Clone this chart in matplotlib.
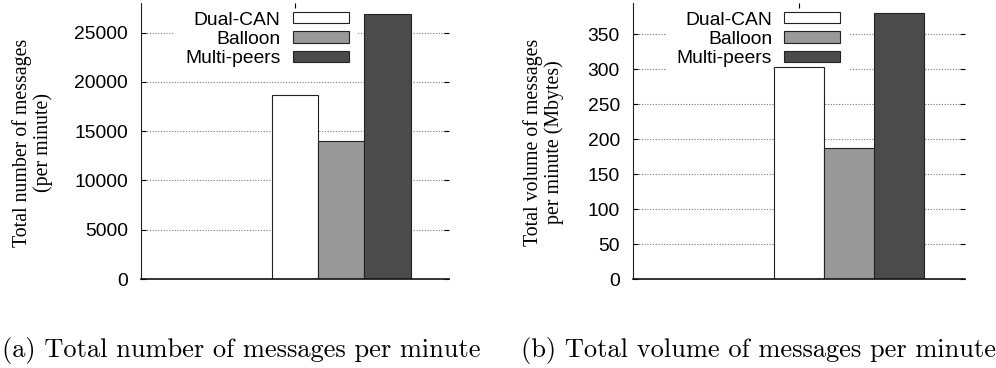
import matplotlib
matplotlib.use("Agg")
import matplotlib.pyplot as plt

categories = ["Dual-CAN", "Balloon", "Multi-peers"]
messages_per_min = [18700, 14000, 26900]
volume_mbytes = [304, 188, 380]
msg_ticks = [0, 5000, 10000, 15000, 20000, 25000]
vol_ticks = [0, 50, 100, 150, 200, 250, 300, 350]

colors = ["#ffffff", "#999999", "#4b4b4b"]
bar_pos = [-1, 0, 1]

fig = plt.figure(figsize=(9.96, 3.68), dpi=100)
W, H = 996, 368

def make_axes(x0, x1, y0, y1):
    return fig.add_axes([x0 / W, (H - y1) / H, (x1 - x0) / W, (y1 - y0) / H])

sans = "Liberation Sans"
serif = "Liberation Serif"
fs = 13.9

def style(ax, values, ticks, ymax, ylabel, label_x, leg_x, leg_y):
    for p, v, c, lab in zip(bar_pos, values, colors, categories):
        ax.bar(p, v, width=1.0, color=c, edgecolor="#222222", linewidth=0.8, label=lab, zorder=1)
    ax.set_xlim(-4.33, 2.33)
    ax.set_ylim(0, ymax)
    ax.set_yticks(ticks)
    ax.set_yticklabels([str(t) for t in ticks], fontfamily=sans, fontsize=fs)
    ax.set_axisbelow(True)
    ax.yaxis.grid(True, linestyle=(0, (1, 1.5)), color="#777777", linewidth=0.8)
    ax.tick_params(axis="y", direction="in", length=3.8, width=0.8, left=True, right=True,
                   pad=9.4, colors="black")
    ax.set_xticks([-1])
    ax.set_xticklabels([""])
    ax.tick_params(axis="x", direction="in", length=3.5, width=0.8, bottom=False, top=True,
                   labelbottom=False, labeltop=False)
    ax.xaxis.set_zorder(6)
    ax.spines["top"].set_visible(False)
    ax.spines["right"].set_visible(False)
    ax.spines["left"].set_linewidth(0.8)
    ax.spines["left"].set_color("#222222")
    ax.spines["bottom"].set_linewidth(1.2)
    ax.spines["bottom"].set_color("#111111")
    ax.set_ylabel(ylabel, fontfamily=serif, fontsize=14.3, linespacing=1.08)
    ax.yaxis.set_label_coords(label_x, 0.495)
    leg = ax.legend(loc="upper right", bbox_to_anchor=(leg_x, leg_y), borderaxespad=0,
                    markerfirst=False, frameon=True, fancybox=False, edgecolor="none",
                    facecolor="white", framealpha=1.0, handlelength=2.9, handleheight=0.52,
                    handletextpad=0.64, labelspacing=0.12, borderpad=0.5,
                    prop={"family": sans, "size": fs})
    leg.get_frame().set_linewidth(0)
    leg.set_zorder(0.9)

ax1 = make_axes(141, 449, 3, 279)
style(ax1, messages_per_min, msg_ticks, 28000,
      "Total number of messages\n(per minute)", -0.286, 0.706, 1.004)

ax2 = make_axes(633, 965, 3, 279)
style(ax2, volume_mbytes, vol_ticks, 395,
      "Total volume of messages\nper minute (Mbytes)", -0.208, 0.654, 1.004)

fig.text(241 / W, 1 - 350 / H, "(a) Total number of messages per minute",
         family="cmr10", fontsize=19, ha="center", va="center")
fig.text(758 / W, 1 - 350 / H, "(b) Total volume of messages per minute",
         family="cmr10", fontsize=19, ha="center", va="center")

fig.savefig("out.png", dpi=100)
